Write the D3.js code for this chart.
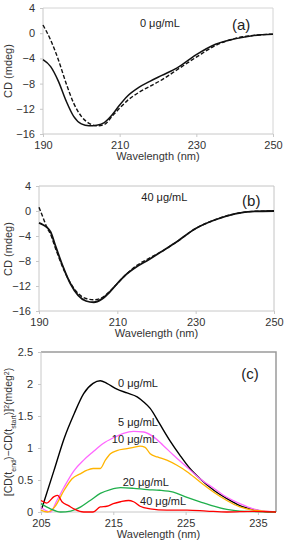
<!DOCTYPE html>
<html>
<head>
<meta charset="utf-8">
<script src="https://cdn.jsdelivr.net/npm/d3@7/dist/d3.min.js"></script>
<style>
  body { margin: 0; background: #fff; }
  svg { display: block; font-family: "Liberation Sans", Arial, sans-serif; }
  .tick text { fill: #333; font-size: 11px; }
</style>
</head>
<body>
<svg id="chart" width="289" height="550"></svg>
<script>
// panel (a): 0 ug/mL
const aWl = [190, 192, 194, 196, 198, 200, 202, 204, 206, 208, 210, 212, 215, 218, 221, 225, 230, 235, 240, 245, 250];
const aSolid = [-4.2, -5.3, -7.6, -10.7, -13.2, -14.4, -14.7, -14.6, -14.2, -13.0, -11.4, -10.0, -8.6, -7.6, -6.7, -5.5, -3.4, -1.75, -0.9, -0.35, -0.15];
const aDashed = [1.3, -1.1, -4.2, -7.9, -11.1, -13.2, -14.3, -14.7, -14.5, -13.2, -11.9, -10.7, -9.4, -8.4, -7.4, -5.8, -3.8, -1.95, -0.85, -0.35, -0.15];

// panel (b): 40 ug/mL
const bWl = [190, 191, 192, 193, 194, 196, 198, 200, 202, 204, 206, 208, 210, 212, 215, 218, 221, 225, 230, 235, 240, 245, 250];
const bSolid = [-1.9, -2.2, -2.6, -3.4, -5.2, -8.7, -11.6, -13.5, -14.4, -14.6, -14.1, -13.0, -11.6, -10.3, -8.9, -7.8, -6.6, -5.0, -2.8, -1.4, -0.45, -0.05, 0];
const bDashed = [0.6, -1.0, -2.6, -3.8, -5.6, -8.9, -11.5, -13.2, -14.0, -14.2, -13.9, -12.9, -11.6, -10.3, -8.7, -7.6, -6.6, -5.0, -2.8, -1.4, -0.45, -0.05, 0];

// panel (c): squared CD difference per concentration
const c0Wl = [205.1, 206.8, 208.2, 209.6, 210.9, 212.2, 213.2, 214.1, 215.5, 216.9, 218.3, 219.2, 220.1, 221.4, 222.8, 224.2, 225.6, 227.0, 228.9, 230.7, 232.5, 234.3, 235.7, 237.5];
const c0 = [0.05, 0.65, 1.15, 1.54, 1.85, 2.01, 2.05, 2.01, 1.92, 1.86, 1.80, 1.72, 1.62, 1.38, 1.12, 0.89, 0.68, 0.52, 0.34, 0.21, 0.10, 0.04, 0.01, 0];
const c5Wl = [205, 206.3, 207.2, 208.2, 209.6, 210.9, 212.2, 213.6, 215.0, 216.4, 217.8, 219.2, 220.6, 221.9, 223.3, 225.2, 227.0, 228.9, 230.7, 232.5, 234.3, 237.5];
const c5 = [0.07, 0, 0.18, 0.39, 0.65, 0.81, 0.94, 1.07, 1.16, 1.23, 1.26, 1.25, 1.17, 1.04, 0.89, 0.70, 0.52, 0.37, 0.23, 0.13, 0.05, 0];
const c10Wl = [205, 205.9, 206.9, 208.2, 209.3, 210.5, 211.3, 212.2, 213.2, 213.9, 214.6, 215.5, 216.9, 217.8, 218.7, 219.4, 220.1, 221.1, 222.4, 223.8, 225.2, 227.0, 228.9, 230.7, 232.5, 234.3, 237.5];
const c10 = [0.03, 0, 0.08, 0.34, 0.52, 0.60, 0.65, 0.68, 0.68, 0.81, 0.91, 0.96, 0.99, 1.01, 1.03, 1.01, 0.91, 0.86, 0.81, 0.73, 0.63, 0.47, 0.31, 0.18, 0.08, 0.03, 0];
const c20Wl = [205, 206.3, 207.7, 209.1, 210.5, 211.8, 213.2, 214.6, 216.0, 217.8, 219.7, 221.4, 223.3, 225.2, 227.0, 228.9, 230.7, 232.5, 237.5];
const c20 = [0.13, 0.05, 0.0, 0.015, 0.08, 0.18, 0.29, 0.35, 0.38, 0.37, 0.35, 0.34, 0.31, 0.23, 0.16, 0.09, 0.04, 0.015, 0];
const c40Wl = [205, 205.8, 206.8, 207.3, 207.9, 208.8, 209.7, 210.9, 212.2, 213.2, 214.1, 215.0, 216.0, 217.1, 217.8, 218.7, 220.1, 222.4, 225.2, 227.9, 230.7, 234.3, 237.5];
const c40 = [0.18, 0.14, 0.24, 0.26, 0.16, 0.10, 0.04, 0.0, 0, 0.08, 0.09, 0.13, 0.16, 0.18, 0.16, 0.09, 0.05, 0.03, 0.03, 0.015, 0, 0.01, 0];

const cdTicks = [4, 0, -4, -8, -12, -16];
const cdXTicks = [190, 210, 230, 250];
const cTicks = [0, 0.5, 1, 1.5, 2, 2.5];
const cXTicks = [205, 215, 225, 235];

const svg = d3.select('#chart');

function drawPanel(p) {
    const x = d3.scaleLinear().domain(p.xDomain).range([p.left, p.right]);
    const y = d3.scaleLinear().domain(p.yDomain).range([p.bottom, p.top]);
    const g = svg.append('g');

    // frame (top + right)
    g.append('path')
        .attr('d', `M${p.left},${p.top}H${p.right}V${p.bottom}`)
        .attr('fill', 'none')
        .attr('stroke', p.frameColor)
        .attr('stroke-width', p.frameWidth);

    const xAxis = g.append('g')
        .attr('transform', `translate(0,${p.bottom})`)
        .call(d3.axisBottom(x).tickValues(p.xTicks).tickSize(3).tickPadding(4).tickFormat(d3.format('d')));
    const yAxis = g.append('g')
        .attr('transform', `translate(${p.left},0)`)
        .call(d3.axisLeft(y).tickValues(p.yTicks).tickSize(3).tickPadding(5).tickFormat(p.yFormat));
    [xAxis, yAxis].forEach(a => {
        a.selectAll('.domain, line').attr('stroke', '#c8c8c8');
        a.select('.domain').attr('d', a === xAxis ? `M${p.left},0H${p.right}` : `M0,${p.bottom}V${p.top}`);
    });
    yAxis.selectAll('text').text(d => p.yFormat(d).replace('-', '\u2212'));

    const line = d3.line().curve(d3.curveMonotoneX).x(d => x(d[0])).y(d => y(d[1]));
    p.series.forEach(s => {
        g.append('path')
            .datum(d3.zip(s.wl, s.values))
            .attr('d', line)
            .attr('fill', 'none')
            .attr('stroke', s.color)
            .attr('stroke-width', s.width || 1.4)
            .attr('stroke-dasharray', s.dash || null);
    });

    g.append('text')
        .attr('x', (p.left + p.right) / 2)
        .attr('y', p.bottom + 26)
        .attr('text-anchor', 'middle')
        .attr('font-size', 11)
        .attr('fill', '#333')
        .text('Wavelength (nm)');

    p.labels.forEach(l => {
        g.append('text')
            .attr('x', x(l.at[0]))
            .attr('y', y(l.at[1]))
            .attr('text-anchor', l.anchor || 'middle')
            .attr('dominant-baseline', 'middle')
            .attr('font-size', l.size || 11)
            .attr('fill', '#222')
            .text(l.text);
    });
    return g;
}

drawPanel({
    left: 43, right: 273, top: 8, bottom: 134,
    xDomain: [190, 250], yDomain: [-16, 4],
    xTicks: cdXTicks, yTicks: cdTicks, yFormat: d3.format('d'),
    frameColor: '#d4d4d4', frameWidth: 1,
    series: [
        { wl: aWl, values: aSolid, color: '#111', width: 1.5 },
        { wl: aWl, values: aDashed, color: '#111', width: 1.4, dash: '4,2' }
    ],
    labels: [
        { text: '0 \u03bcg/mL', at: [220.5, 1.4] },
        { text: '(a)', at: [241.7, 1.2], size: 15 }
    ]
});

drawPanel({
    left: 39, right: 274, top: 186, bottom: 311,
    xDomain: [190, 250], yDomain: [-16, 4],
    xTicks: cdXTicks, yTicks: cdTicks, yFormat: d3.format('d'),
    frameColor: '#c4c4c4', frameWidth: 1,
    series: [
        { wl: bWl, values: bSolid, color: '#111', width: 1.8 },
        { wl: bWl, values: bDashed, color: '#111', width: 1.4, dash: '4,2' }
    ],
    labels: [
        { text: '40 \u03bcg/mL', at: [222, 2.1] },
        { text: '(b)', at: [244.2, 1.4], size: 15 }
    ]
});

drawPanel({
    left: 41, right: 276, top: 352, bottom: 512,
    xDomain: [205, 237.5], yDomain: [0, 2.5],
    xTicks: cXTicks, yTicks: cTicks, yFormat: d => String(d),
    frameColor: '#9a9a9a', frameWidth: 1.5,
    series: [
        { wl: c0Wl, values: c0, color: '#000000' },
        { wl: c5Wl, values: c5, color: '#ff66ff', width: 1.3 },
        { wl: c10Wl, values: c10, color: '#ffb400', width: 1.3 },
        { wl: c20Wl, values: c20, color: '#1faf4b', width: 1.3 },
        { wl: c40Wl, values: c40, color: '#ff0000', width: 1.3 }
    ],
    labels: [
        { text: '0 \u03bcg/mL', at: [215.65, 2.0], anchor: 'start' },
        { text: '5 \u03bcg/mL', at: [215.65, 1.39], anchor: 'start' },
        { text: '10 \u03bcg/mL', at: [214.8, 1.125], anchor: 'start' },
        { text: '20 \u03bcg/mL', at: [216.3, 0.45], anchor: 'start' },
        { text: '40 \u03bcg/mL', at: [218.7, 0.16], anchor: 'start' },
        { text: '(c)', at: [233.9, 2.14], size: 15 }
    ]
});

// y axis titles
function yTitle(cx, cy) {
    return svg.append('text')
        .attr('transform', `translate(${cx},${cy}) rotate(-90)`)
        .attr('text-anchor', 'middle')
        .attr('font-size', 11)
        .attr('fill', '#333');
}
yTitle(12, 71).text('CD (mdeg)');
yTitle(12, 249).text('CD (mdeg)');

const t = yTitle(12, 432).attr('font-size', 10.5);
t.append('tspan').text('[CD(t');
t.append('tspan').attr('font-size', 7).attr('baseline-shift', 'sub').text('end');
t.append('tspan').text(')\u2212CD(t');
t.append('tspan').attr('font-size', 7).attr('baseline-shift', 'sub').text('start');
t.append('tspan').text(')]');
t.append('tspan').attr('font-size', 7).attr('baseline-shift', 'super').text('2');
t.append('tspan').text('(mdeg');
t.append('tspan').attr('font-size', 7).attr('baseline-shift', 'super').text('2');
t.append('tspan').text(')');
</script>
</body>
</html>
